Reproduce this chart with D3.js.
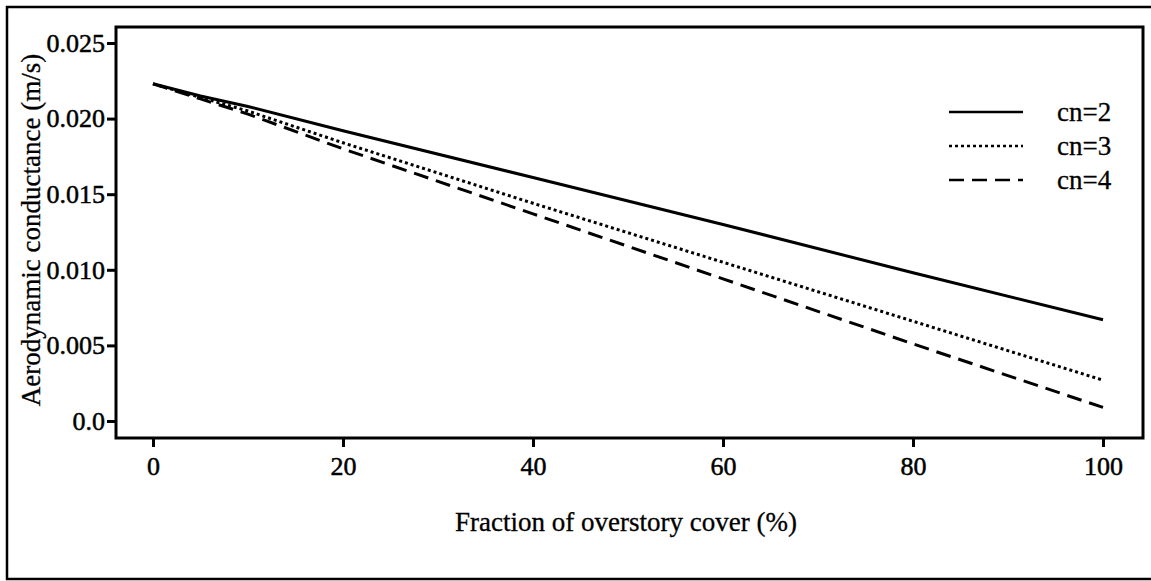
<!DOCTYPE html>
<html>
<head>
<meta charset="utf-8">
<script src="https://d3js.org/d3.v7.min.js"></script>
<style>
  body { margin: 0; background: #fff; }
  text { font-family: "Liberation Serif", "Times New Roman", serif; fill: #000; stroke: #000; stroke-width: 0.5px; }
</style>
</head>
<body>
<div id="graph"></div>
<script>
// values
let cover = [0, 5, 10, 20, 40, 60, 80, 100];
let cn2 = [0.0223, 0.0215, 0.0208, 0.0192, 0.0161, 0.013, 0.0098, 0.0067];
let cn3 = [0.0223, 0.0214, 0.0205, 0.0184, 0.0144, 0.0105, 0.0066, 0.0027];
let cn4 = [0.0223, 0.0213, 0.0203, 0.018, 0.0137, 0.0094, 0.0051, 0.0009];
let seriesNames = ["cn=2", "cn=3", "cn=4"];
let xTicks = [0, 20, 40, 60, 80, 100];
let yTicks = [0, 0.005, 0.01, 0.015, 0.02, 0.025];
let yTickLabels = ["0.0", "0.005", "0.010", "0.015", "0.020", "0.025"];

let W = 1151, H = 581;
let box = { left: 116, top: 27, right: 1143, bottom: 438 };

let svg = d3.select("#graph").append("svg").attr("width", W).attr("height", H);

// outer frame
svg.append("rect")
  .attr("x", 7).attr("y", 7)
  .attr("width", W + 10).attr("height", 572)
  .attr("fill", "none").attr("stroke", "#000").attr("stroke-width", 2.5);

let x = d3.scaleLinear().domain([0, 100]).range([153, 1103]);
let y = d3.scaleLinear().domain([0, 0.025]).range([421, 43]);

// plot box
svg.append("rect")
  .attr("x", box.left).attr("y", box.top)
  .attr("width", box.right - box.left).attr("height", box.bottom - box.top)
  .attr("fill", "none").attr("stroke", "#000").attr("stroke-width", 3);

// y axis
let yAxis = svg.append("g")
  .attr("transform", "translate(" + box.left + ",0)")
  .call(d3.axisLeft(y).tickValues(yTicks).tickSize(9).tickPadding(2)
    .tickFormat((d, i) => yTickLabels[i]));
yAxis.select(".domain").remove();
yAxis.selectAll("line").attr("stroke-width", 3);
yAxis.selectAll("text").style("font-size", "26px").attr("dy", "0.32em")
  .style("font-family", "Liberation Serif");

// x axis
let xAxis = svg.append("g")
  .attr("transform", "translate(0," + box.bottom + ")")
  .call(d3.axisBottom(x).tickValues(xTicks).tickSize(9).tickPadding(10));
xAxis.select(".domain").remove();
xAxis.selectAll("line").attr("stroke-width", 3);
xAxis.selectAll("text").style("font-size", "26px")
  .style("font-family", "Liberation Serif");

// axis titles
svg.append("text")
  .attr("transform", "translate(40,230) rotate(-90)")
  .attr("text-anchor", "middle")
  .style("font-size", "27px")
  .style("stroke-width", "0.3px")
  .text("Aerodynamic conductance (m/s)");

svg.append("text")
  .attr("x", 626).attr("y", 531)
  .attr("text-anchor", "middle")
  .style("font-size", "27px")
  .style("stroke-width", "0.3px")
  .text("Fraction of overstory cover (%)");

// lines
let dashes = [null, "3,3", "15,8"];
let allSeries = [cn2, cn3, cn4];
let line = d3.line()
  .x((d, i) => x(cover[i]))
  .y((d) => y(d));

svg.selectAll(".series")
  .data(allSeries)
  .enter()
  .append("path")
  .attr("class", "series")
  .attr("d", (d) => line(d))
  .attr("fill", "none")
  .attr("stroke", "#000")
  .attr("stroke-width", 3)
  .attr("stroke-dasharray", (d, i) => dashes[i]);

// legend
let legendY = [112, 146, 180];
let legend = svg.selectAll(".legend")
  .data(seriesNames)
  .enter()
  .append("g")
  .attr("class", "legend")
  .attr("transform", (d, i) => "translate(949," + legendY[i] + ")");

legend.append("line")
  .attr("x1", 0).attr("x2", 74)
  .attr("stroke", "#000").attr("stroke-width", 2.5)
  .attr("stroke-dasharray", (d, i) => dashes[i]);

legend.append("text")
  .attr("x", 108).attr("dy", "0.32em")
  .style("font-size", "27px")
  .style("stroke-width", "0.3px")
  .text((d) => d);
</script>
</body>
</html>
